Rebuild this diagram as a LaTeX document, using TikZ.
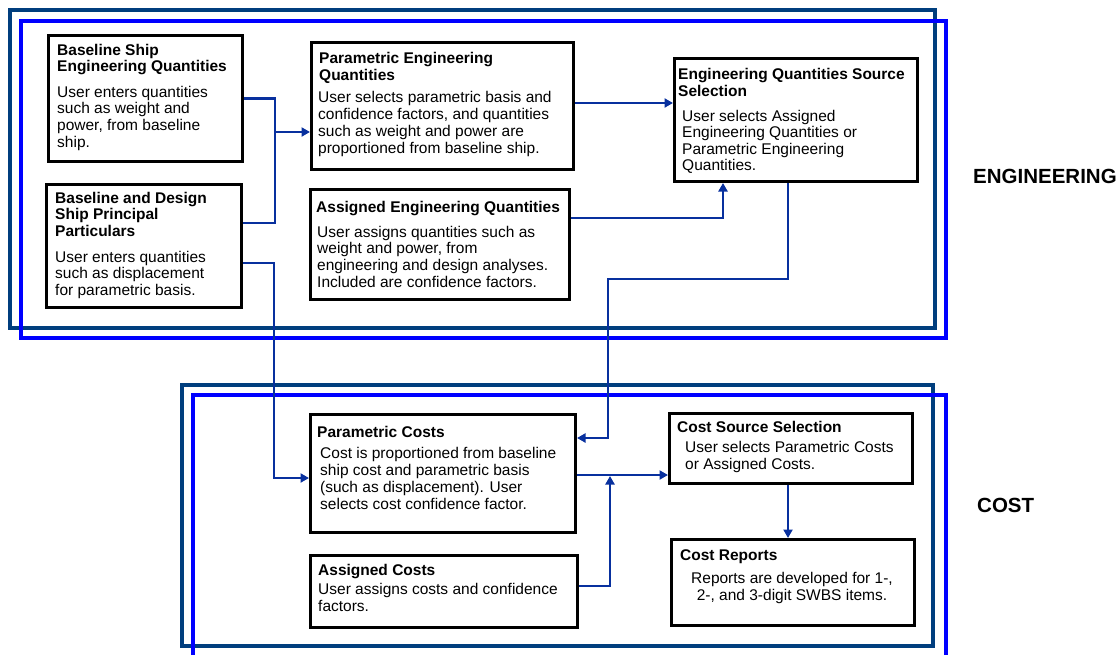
\documentclass[tikz,border=0pt]{standalone}
\usepackage{fontspec}
\setmainfont{Liberation Sans}
\usetikzlibrary{arrows.meta,calc}
\definecolor{framedark}{RGB}{0,62,126}
\definecolor{frameblue}{RGB}{0,0,255}
\definecolor{link}{RGB}{8,48,158}
\begin{document}
\begin{tikzpicture}[x=1pt,y=-1pt,
  box/.style={draw=black, line width=3pt, fill=white, inner sep=0pt,
    outer sep=1.5pt, anchor=north west},
  txt/.style={inner sep=0pt, anchor=base west,
    font=\fontsize{15.5pt}{#1}\selectfont},
  txt/.default=17pt,
  conn/.style={draw=link, line width=2.3pt},
  arr/.style={conn, -{Triangle[length=8.5pt,width=9pt]}},
  darkframe/.style={draw=framedark, line width=4pt},
  blueframe/.style={draw=frameblue, line width=3.5pt},
  section/.style={inner sep=0pt, anchor=base west,
    font=\bfseries\fontsize{20.5pt}{24pt}\selectfont}]
\useasboundingbox (0,0) rectangle (1120,654);

% section frames
\draw[darkframe] (10,10) rectangle (935,328);
\draw[blueframe] (21,21) rectangle (946,338);
\draw[darkframe] (182,385) rectangle (933,646);
\draw[blueframe] (193,660) -- (193,395) -- (946,395) -- (946,660);

% section labels
\node[section] (englabel) at (973,183) {ENGINEERING};
\node[section] (costlabel) at (977,512) {COST};

% boxes
\node[box, minimum width=194pt, minimum height=126pt] (b1) at (47,34) {};
\node[box, minimum width=195pt, minimum height=123pt] (b2) at (45,183) {};
\node[box, minimum width=262pt, minimum height=127pt] (b3) at (310,41) {};
\node[box, minimum width=259pt, minimum height=110pt] (b4) at (309,188) {};
\node[box, minimum width=243pt, minimum height=123pt] (b5) at (673,57) {};
\node[box, minimum width=265pt, minimum height=118pt] (b6) at (309,413) {};
\node[box, minimum width=267pt, minimum height=72pt] (b7) at (309,554) {};
\node[box, minimum width=243pt, minimum height=70pt] (b8) at (668,412) {};
\node[box, minimum width=243pt, minimum height=86pt] (b9) at (670,538) {};

% connectors
\coordinate (split1) at (275,132);
\coordinate (bend2) at (274,478);
\coordinate (bend5) at (608,279);
\coordinate (merge) at (610,476);

\draw[conn] (b1.east) -| (275,223) -- (b2.east |- 0,223);
\draw[arr] (split1) -- (b3.west |- split1);
\draw[arr] (b2.east |- 0,263) -| (bend2) -- (b6.west |- bend2);
\draw[arr] (b3.east |- 0,103) -- (b5.west |- 0,103);
\draw[arr] (b4.east |- 0,218) -| (b5.south -| 723,0);
\draw[arr] (b5.south -| 788,0) |- (bend5) |- (b6.east |- 0,438);
\draw[arr] (b6.east |- 0,475) -- (b8.west |- 0,475);
\draw[arr] (b7.east |- 0,586) -| (merge);
\draw[arr] (b8.south -| 788,0) -- (b9.north -| 788,0);

% box texts
\node[txt=16.7pt] (b1t) at (57,55) {\parbox[t]{300pt}{\bfseries Baseline Ship\\Engineering Quantities}};
\node[txt=16.7pt] (b1b) at (57,97) {\parbox[t]{300pt}{User enters quantities\\such as weight and\\power, from baseline\\ship.}};

\node[txt=16.8pt] (b2t) at (55,203) {\parbox[t]{300pt}{\bfseries Baseline and Design\\Ship Principal\\Particulars}};
\node[txt=16.7pt] (b2b) at (55,262) {\parbox[t]{300pt}{User enters quantities\\such as displacement\\for parametric basis.}};

\node[txt] (b3t) at (319,63) {\parbox[t]{300pt}{\bfseries Parametric Engineering\\Quantities}};
\node[txt] (b3b) at (318,102) {\parbox[t]{300pt}{User selects parametric basis and\\confidence factors, and quantities\\such as weight and power are\\proportioned from baseline ship.}};

\node[txt] (b4t) at (316,212) {\parbox[t]{300pt}{\bfseries Assigned Engineering Quantities}};
\node[txt=16.7pt] (b4b) at (317,237) {\parbox[t]{300pt}{User assigns quantities such as\\weight and power, from\\engineering and design analyses.\\Included are confidence factors.}};

\node[txt=17.5pt] (b5t) at (678,79) {\parbox[t]{300pt}{\bfseries Engineering Quantities Source\\Selection}};
\node[txt=16.5pt] (b5b) at (682,121) {\parbox[t]{300pt}{User selects Assigned\\Engineering Quantities or\\Parametric Engineering\\Quantities.}};

\node[txt] (b6t) at (317,437) {\parbox[t]{300pt}{\bfseries Parametric Costs}};
\node[txt] (b6b) at (320,458) {\parbox[t]{300pt}{Cost is proportioned from baseline\\ship cost and parametric basis\\(such as displacement). User\\selects cost confidence factor.}};

\node[txt] (b7t) at (318,575) {\parbox[t]{300pt}{\bfseries Assigned Costs}};
\node[txt] (b7b) at (318,594) {\parbox[t]{300pt}{User assigns costs and confidence\\factors.}};

\node[txt] (b8t) at (677,432) {\parbox[t]{300pt}{\bfseries Cost Source Selection}};
\node[txt] (b8b) at (685,452) {\parbox[t]{300pt}{User selects Parametric Costs\\or Assigned Costs.}};

\node[txt] (b9t) at (680,560) {\parbox[t]{300pt}{\bfseries Cost Reports}};
\node[txt, anchor=base] (b9b) at (792,583) {\parbox[t]{300pt}{\centering Reports are developed for 1-,\\2-, and 3-digit SWBS items.}};
\end{tikzpicture}
\end{document}
